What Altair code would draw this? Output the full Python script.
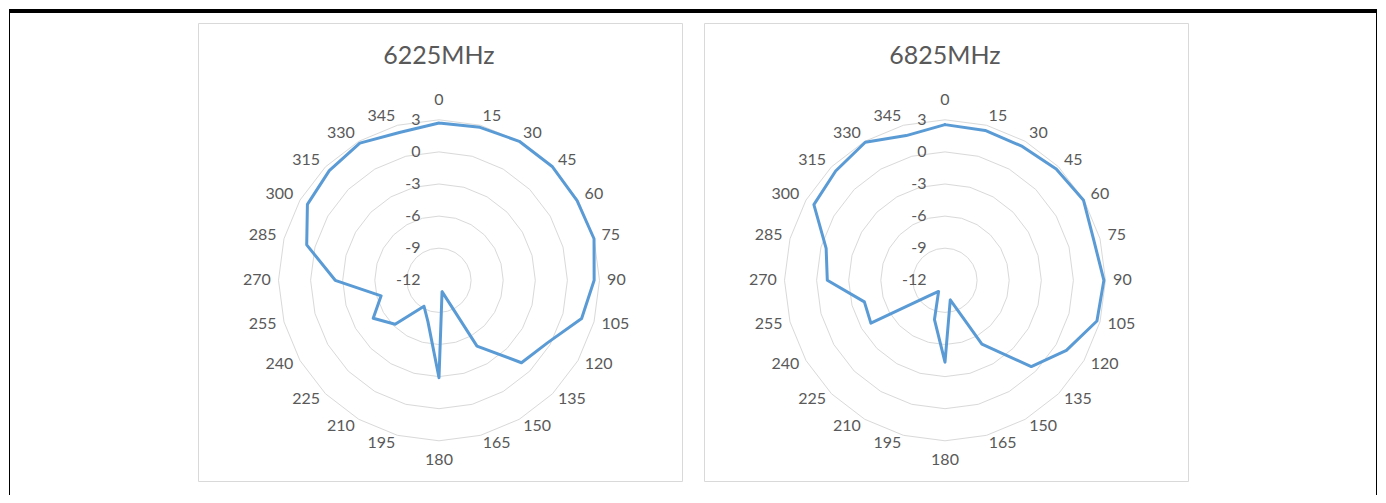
import altair as alt
import pandas as pd

# ---------------- data ----------------
angles = [0, 15, 30, 45, 60, 75, 90, 105, 120, 135, 150, 165,
          180, 195, 210, 225, 240, 255, 270, 285, 300, 315, 330, 345]
angle_labels = ["0", "15", "30", "45", "60", "75", "90", "105", "120", "135",
                "150", "165", "180", "195", "210", "225", "240", "255", "270",
                "285", "300", "315", "330", "345"]
ring_levels = [-9, -6, -3, 0, 3]
axis_values = [-12, -9, -6, -3, 0, 3]
axis_labels = ["-12", "-9", "-6", "-3", "0", "3"]
titles = ["6225MHz", "6825MHz"]

gain_6225 = [2.7, 2.8, 3.0, 3.0, 2.9, 3.0, 2.5, 1.8, -0.3, -1.1, -4.9, -10.9,
             -2.9, -8.0, -9.2, -6.2, -4.9, -6.4, -2.3, 0.8, 2.2, 2.5, 2.8, 2.3]
gain_6825 = [2.55, 2.5, 2.45, 2.7, 2.95, 2.4, 2.85, 2.7, 1.1, -0.6, -5.1, -10.1,
             -4.35, -8.2, -10.8, -10.0, -4.0, -4.2, -1.0, -0.5, 2.15, 2.45, 2.9, 2.0]

# ---------------- geometry / style ----------------
R_MIN = -12          # value at the centre of the radar
PX = 10.7            # pixels per dB along the radius
W, H = 484, 458      # panel size
CX, CY = 241, 257.3  # radar centre inside the panel (px)
GREY = "#595959"
GRID = "#d9d9d9"
BLUE = "#5B9BD5"
FONT = "Lato"

xs = alt.Scale(domain=[-CX / PX, (W - CX) / PX], nice=False, zero=False)
ys = alt.Scale(domain=[-(H - CY) / PX, CY / PX], nice=False, zero=False)


def xy(field_x="x", field_y="y"):
    return dict(x=alt.X(f"{field_x}:Q", scale=xs, axis=None),
                y=alt.Y(f"{field_y}:Q", scale=ys, axis=None))


def polar(chart):
    return (chart
            .transform_calculate(r=f"max(datum.val - ({R_MIN}), 0)")
            .transform_calculate(x="datum.r * sin(datum.ang * PI / 180)",
                                 y="datum.r * cos(datum.ang * PI / 180)"))


def panel(title, gains, frame=False):
    n = len(angles)
    # grid rings (24-sided polygons like Excel radar gridlines)
    ring_rows = []
    for lv in ring_levels:
        for i in range(n + 1):
            ring_rows.append({"level": lv, "idx": i, "ang": angles[i % n], "val": lv})
    rings = polar(alt.Chart(pd.DataFrame(ring_rows))).mark_line(
        stroke=GRID, strokeWidth=1
    ).encode(**xy(), detail="level:N", order="idx:Q")

    # radial axis labels
    ax_df = pd.DataFrame({"v": axis_values, "lab": axis_labels})
    ax_text = alt.Chart(ax_df).transform_calculate(
        x=f"{-18.5 / PX}", y=f"datum.v - ({R_MIN})"
    ).mark_text(align="right", baseline="middle", fontSize=16, font=FONT,
                color=GREY).encode(**xy(), text="lab:N")

    # category (angle) labels
    cat_df = pd.DataFrame({"ang": angles, "lab": angle_labels})
    cat_text = alt.Chart(cat_df).transform_calculate(
        s="sin(datum.ang * PI / 180)", c="cos(datum.ang * PI / 180)"
    ).transform_calculate(
        x=f"(168 * datum.s + (datum.s > 0.01 ? 1 : (datum.s < -0.01 ? -1 : 0)) * length(datum.lab) * 4.7) / {PX}",
        y=f"(168 * datum.c + (abs(datum.s) < 0.01 ? 12 * datum.c : (datum.c > 0.01 ? 2 : 0))) / {PX}",
    ).mark_text(align="center", baseline="middle", fontSize=16, font=FONT,
                color=GREY).encode(**xy(), text="lab:N")

    # data series (closed loop)
    line_df = pd.DataFrame({"idx": list(range(n + 1)),
                            "ang": angles + [angles[0]],
                            "val": gains + [gains[0]]})
    series = polar(alt.Chart(line_df)).mark_line(
        stroke=BLUE, strokeWidth=3, strokeJoin="round", strokeCap="round"
    ).encode(**xy(), order="idx:Q")

    # chart title
    ttl = alt.Chart(pd.DataFrame({"t": [title]})).transform_calculate(
        x="0", y=f"{224 / PX}"
    ).mark_text(align="center", baseline="middle", fontSize=25, font=FONT,
                color=GREY).encode(**xy(), text="t:N")

    layers = [rings, ax_text, cat_text, series, ttl]

    if frame:
        one = pd.DataFrame({"k": [0]})
        top_bar = alt.Chart(one).mark_rect(color="black").encode(
            x=alt.value(-189), x2=alt.value(1179),
            y=alt.value(-14), y2=alt.value(-10))
        left_line = alt.Chart(one).mark_rule(color="black", strokeWidth=1).encode(
            x=alt.value(-188.5), y=alt.value(-14), y2=alt.value(472))
        right_line = alt.Chart(one).mark_rule(color="black", strokeWidth=1).encode(
            x=alt.value(1178.5), y=alt.value(-14), y2=alt.value(472))
        layers += [top_bar, left_line, right_line]

    return alt.layer(*layers).properties(width=W, height=H)


chart = alt.hconcat(
    panel(titles[0], gain_6225, frame=True),
    panel(titles[1], gain_6825),
    spacing=22,
    bounds="flush",
).properties(
    padding=0,
    background="white",
).configure_view(
    stroke=GRID, strokeWidth=1
)

chart.save("out.html", embed_options={"renderer": "svg", "actions": False})
